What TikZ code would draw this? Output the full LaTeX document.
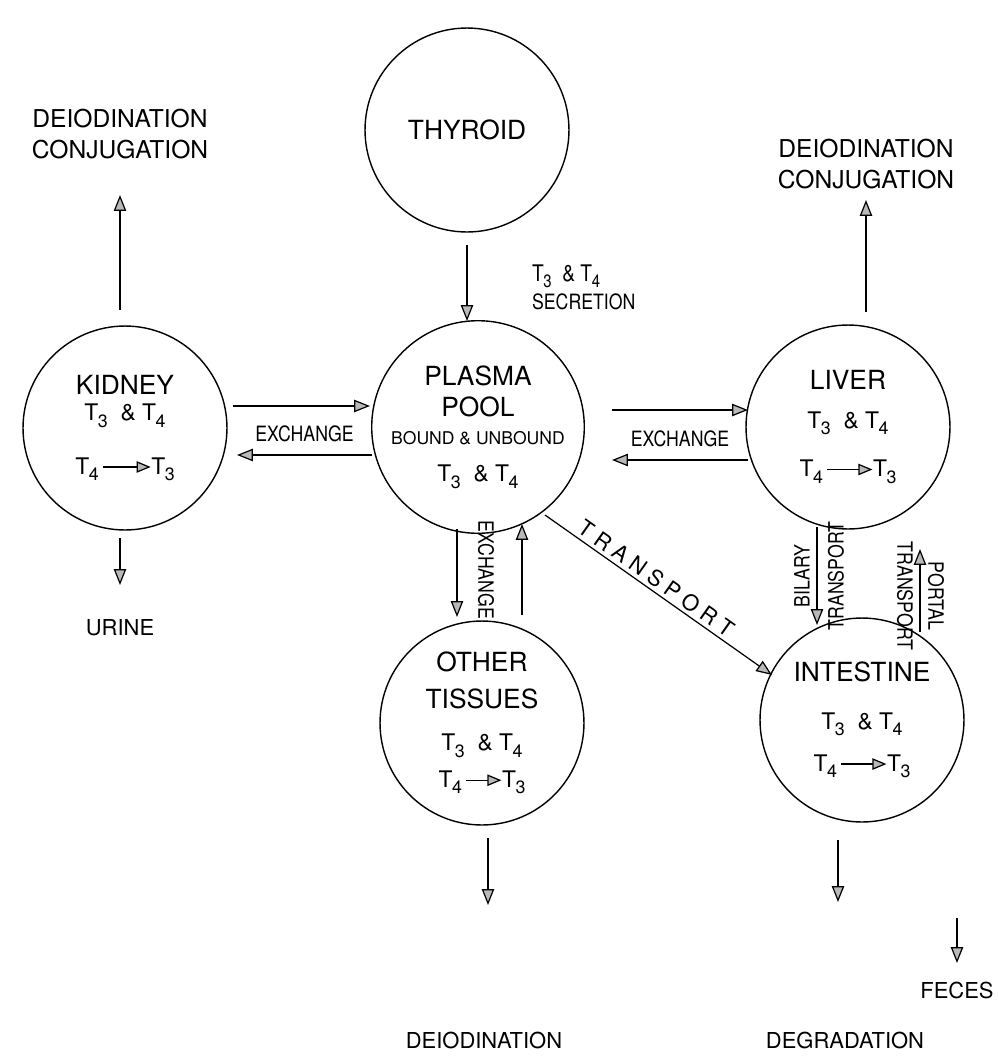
\documentclass[tikz,border=0pt]{standalone}
\usepackage{fontspec}
\setmainfont{TeX Gyre Heros}
\newfontfamily\condfont[FakeStretch=0.84]{TeX Gyre Heros}
\usetikzlibrary{arrows.meta,calc}
\tikzset{
  organ/.style = {shape=circle, draw, line width=0.8pt, minimum size=4.08cm,
                  inner sep=0pt, align=center, font=\fontsize{15}{18}\selectfont},
  note/.style  = {align=center, font=\fontsize{12.5}{18}\selectfont, inner sep=1pt},
  bignote/.style = {note, font=\fontsize{14}{18}\selectfont},
  tiny/.style  = {font=\condfont\fontsize{12}{14}\selectfont, inner sep=1pt},
  flow/.style  = {->, line width=0.7pt}
}
\newcommand{\Tn}[1]{T\kern-0.02em\raisebox{-0.55ex}{\scalebox{0.78}{#1}}}
\newcommand{\inr}{\fontsize{13}{15}\selectfont}
\newcommand{\conv}[1]{\Tn{4}\,\tikz[baseline=-0.6ex]\draw[-{Triangle[fill=gray!55,length=8pt,width=6.5pt]},line width=0.7pt] (0,0) -- (#1,0);\Tn{3}}

\begin{document}
\begin{tikzpicture}[x=0.02cm,y=-0.02cm,
  >={Triangle[fill=gray!55,length=9pt,width=7pt]}]
\useasboundingbox (0,0) rectangle (999,1059);
% organs
\node [organ] (thyroid) at (467,130) {THYROID};
\node [organ] (plasma) at (478,427) {PLASMA\\[0pt]POOL\\[-2pt]{\fontsize{10}{12}\selectfont BOUND \& UNBOUND}\\[3pt]{\inr\Tn{3}\ \ \& \Tn{4}}};
\node [organ] (kidney) at (125,428) {KIDNEY\\[-3pt]{\inr\Tn{3}\ \ \& \Tn{4}}\\[12.5pt]{\inr\conv{0.95cm}}};
\node [organ] (liver) at (848,427) {LIVER\\[4pt]{\inr\Tn{3}\ \ \& \Tn{4}}\\[9.5pt]{\inr\conv{0.9cm}}};
\node [organ] (other) at (482,723) {OTHER\\[3pt]TISSUES\\[6pt]{\inr\Tn{3}\ \ \& \Tn{4}}\\[3pt]{\inr\conv{0.7cm}}};
\node [organ] (intestine) at (862,720) {INTESTINE\\[9pt]{\inr\Tn{3}\ \ \& \Tn{4}}\\[6pt]{\inr\conv{0.9cm}}};
% outer labels
\node [bignote] (kout) at (120,134) {DEIODINATION\\CONJUGATION};
\node [bignote] (lout) at (866,164) {DEIODINATION\\CONJUGATION};
\node [note] (urine) at (120,628) {URINE};
\node [note] (deiod) at (484,1040) {DEIODINATION};
\node [note] (degr) at (845,1040) {DEGRADATION};
\node [note] (feces) at (957,990) {FECES};
\node [tiny, align=left, anchor=west] (secr) at (530,287) {{\fontsize{13}{15}\selectfont\Tn{3}\ \ \& \Tn{4}}\\[2pt]SECRETION};
% flows
\draw [flow] ($(thyroid)+(0,115)$) -- ($(plasma)+(-11,-106)$);
\draw [flow] ($(kidney)+(-5,-118)$) -- ($(kout)+(0,61)$);
\draw [flow] ($(kidney)+(-5,110)$) -- ($(urine)+(0,-43)$);
\draw [flow] ($(liver)+(18,-115)$) -- ($(lout)+(0,36)$);
\draw [flow] ($(kidney)+(108,-22)$) -- ($(plasma)+(-108,-21)$);
\draw [flow] ($(plasma)+(-106,28)$) -- ($(kidney)+(112,27)$)
  node [tiny, midway, above=6pt] (kex) {EXCHANGE};
\draw [flow] ($(plasma)+(134,-17)$) -- ($(liver)+(-100,-17)$);
\draw [flow] ($(liver)+(-100,33)$) -- ($(plasma)+(134,33)$)
  node [tiny, midway, above=6pt] (lex) {EXCHANGE};
\draw [flow] ($(plasma)+(-21,102)$) -- ($(other)+(-25,-106)$);
\draw [flow] ($(other)+(40,-108)$) -- ($(plasma)+(44,97)$);
\node [tiny, rotate=-90] (oex) at (486,570) {EXCHANGE};
\draw [flow] ($(plasma)+(67,88)$) -- ($(intestine)+(-90,-45)$)
  node [note, pos=0.46, sloped, above=1pt] (tr) {\addfontfeature{LetterSpace=28}TRANSPORT};
\draw [flow] ($(liver)+(-31,100)$) -- ($(intestine)+(-45,-95)$);
\node [tiny, rotate=90] (bil) at (802,576) {BILARY};
\node [tiny, rotate=90] (bil2) at (836,576) {TRANSPORT};
\draw [flow] ($(intestine)+(58,-88)$) -- ($(liver)+(72,122)$);
\node [tiny, rotate=-90] (por) at (905,596) {TRANSPORT};
\node [tiny, rotate=-90] (por2) at (936,596) {PORTAL};
\draw [flow] ($(other)+(6,115)$) -- ($(deiod)+(4,-135)$);
\draw [flow] ($(intestine)+(-24,120)$) -- ($(degr)+(-7,-138)$);
\draw [flow] ($(feces)+(0,-72)$) -- ($(feces)+(0,-27)$);
\end{tikzpicture}
\end{document}
